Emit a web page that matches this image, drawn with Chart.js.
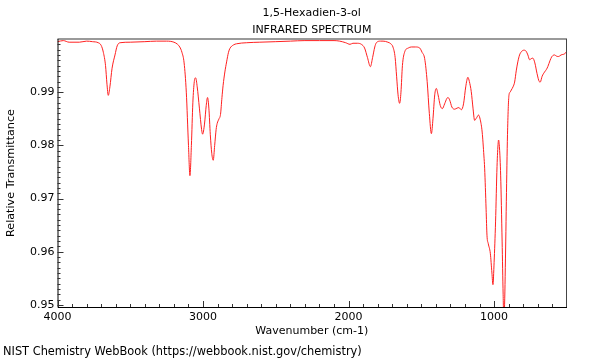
<!DOCTYPE html>
<html>
<head>
<meta charset="utf-8">
<script src="https://cdn.jsdelivr.net/npm/chart.js@4.4.0/dist/chart.umd.min.js"></script>
<style>
  html, body { margin: 0; padding: 0; background: #fff; }
  #wrap { width: 600px; height: 360px; position: relative; }
</style>
</head>
<body>
<div id="wrap"><canvas id="ir"></canvas></div>
<script>
// IR spectrum of 1,5-Hexadien-3-ol

const TITLE_LINES = ['1,5-Hexadien-3-ol', 'INFRARED SPECTRUM'];
const FOOTER = 'NIST Chemistry WebBook (https://webbook.nist.gov/chemistry)';

// wavenumber (cm-1), descending
const wavenumbers = [
  4000, 3960, 3920, 3850, 3800, 3760, 3720, 3700, 3685, 3670, 3660, 3651, 3640, 3625, 3605, 3590, 3570,
  3500, 3400, 3320, 3250, 3200, 3175, 3160, 3145, 3130, 3115, 3100, 3090, 3080, 3070, 3060, 3051,
  3040, 3025, 3010, 3003, 2990, 2978, 2969, 2960, 2950, 2940, 2930, 2920, 2910, 2903, 2890, 2880,
  2870, 2862, 2850, 2838, 2825, 2816, 2790, 2770, 2700, 2610, 2500, 2400, 2300, 2200, 2100, 2061,
  2020, 1990, 1970, 1940, 1912, 1890, 1870, 1850, 1835, 1820, 1809, 1780, 1763, 1730, 1710, 1695,
  1680, 1670, 1660, 1649, 1640, 1630, 1614, 1590, 1568, 1540, 1511, 1495, 1477, 1460, 1445, 1431,
  1420, 1408, 1397, 1385, 1370, 1356, 1340, 1325, 1317, 1305, 1290, 1271, 1255, 1242, 1225, 1210,
  1195, 1180, 1170, 1157, 1145, 1134, 1120, 1107, 1095, 1082, 1070, 1065, 1055, 1049, 1040, 1026,
  1015, 1008, 1000, 990, 980, 972, 969, 963, 955, 945, 938, 933, 928, 920, 916, 908, 898, 890, 882,
  870, 859, 848, 837, 825, 813, 795, 780, 768, 756, 745, 734, 720, 705, 690, 683, 670, 653, 640, 631,
  615, 605, 596, 585, 573, 560, 550, 540, 528, 515, 508
];

// relative transmittance
const transmittance = [
  0.9995, 0.9997, 0.9994, 0.9994, 0.9996, 0.9995, 0.9993, 0.9988, 0.9975, 0.9950, 0.9915, 0.9894, 0.9910, 0.9945, 0.9970, 0.9987, 0.9993,
  0.9994, 0.9995, 0.9996, 0.9996, 0.9994, 0.9990, 0.9985, 0.9975, 0.9955, 0.9900, 0.9800, 0.9743, 0.9800, 0.9880, 0.9920, 0.9927,
  0.9910, 0.9870, 0.9830, 0.9821, 0.9840, 0.9875, 0.9890, 0.9870, 0.9820, 0.9785, 0.9772, 0.9800, 0.9830, 0.9841, 0.9850, 0.9858,
  0.9890, 0.9913, 0.9938, 0.9957, 0.9975, 0.9982, 0.9989, 0.9991, 0.9993, 0.9994, 0.9995, 0.9996, 0.9997, 0.9997, 0.9997, 0.9996,
  0.9993, 0.9990, 0.9992, 0.9992, 0.9990, 0.9983, 0.9965, 0.9948, 0.9965, 0.9985, 0.9993, 0.9996, 0.9996, 0.9994, 0.9991, 0.9985,
  0.9965, 0.9930, 0.9895, 0.9879, 0.9900, 0.9950, 0.9976, 0.9983, 0.9985, 0.9985, 0.9983, 0.9975, 0.9963, 0.9920, 0.9860, 0.9822,
  0.9850, 0.9895, 0.9907, 0.9895, 0.9875, 0.9869, 0.9878, 0.9888, 0.9890, 0.9885, 0.9872, 0.9868, 0.9870, 0.9871, 0.9867, 0.9878,
  0.9910, 0.9928, 0.9920, 0.9901, 0.9870, 0.9847, 0.9852, 0.9857, 0.9848, 0.9825, 0.9780, 0.9757, 0.9680, 0.9631, 0.9615, 0.9597,
  0.9560, 0.9538, 0.9580, 0.9656, 0.9760, 0.9805, 0.9810, 0.9795, 0.9744, 0.9620, 0.9520, 0.9470, 0.9500, 0.9620, 0.9694, 0.9820, 0.9894, 0.9900, 0.9904,
  0.9910, 0.9919, 0.9940, 0.9957, 0.9970, 0.9976, 0.9979, 0.9977, 0.9970, 0.9961, 0.9963, 0.9964, 0.9955, 0.9935, 0.9920, 0.9919, 0.9930, 0.9938, 0.9943, 0.9948,
  0.9960, 0.9966, 0.9969, 0.9970, 0.9968, 0.9967, 0.9968, 0.9970, 0.9971, 0.9972, 0.9975
];

const xTicks = [4000, 3000, 2000, 1000];
const xMinorTicks = [3900, 3800, 3700, 3600, 3500, 3400, 3300, 3200, 3100,
  2900, 2800, 2700, 2600, 2500, 2400, 2300, 2200, 2100,
  1900, 1800, 1700, 1600, 1500, 1400, 1300, 1200, 1100,
  900, 800, 700, 600];
const yTicks = [0.95, 0.96, 0.97, 0.98, 0.99];
const yMinorTicks = [];
for (let i = 950; i <= 999; i++) if (i % 10) yMinorTicks.push(i / 1000);

const X_MIN = 506, X_MAX = 4000;
const Y_MIN = 0.9496, Y_MAX = 1.0;

const FONT = 'DejaVu Sans';

// frame + inward ticks + titles
const framePlugin = {
  id: 'frame',
  afterDraw(chart) {
    const { ctx, chartArea: a, scales: { x, y } } = chart;
    ctx.save();
    // top border (grey, thick) and right border
    ctx.strokeStyle = '#9a9a9a';
    ctx.lineWidth = 2;
    ctx.beginPath(); ctx.moveTo(a.left, a.top); ctx.lineTo(a.right + 1, a.top); ctx.stroke();
    ctx.strokeStyle = '#444';
    ctx.lineWidth = 1;
    ctx.beginPath(); ctx.moveTo(a.right + 0.5, a.top); ctx.lineTo(a.right + 0.5, a.bottom); ctx.stroke();
    // left + bottom axis
    ctx.strokeStyle = '#000';
    ctx.beginPath();
    ctx.moveTo(a.left + 0.5, a.top); ctx.lineTo(a.left + 0.5, a.bottom + 0.5); ctx.lineTo(a.right + 1, a.bottom + 0.5);
    ctx.stroke();
    // ticks pointing inward
    ctx.strokeStyle = '#333';
    ctx.beginPath();
    xTicks.forEach(v => { const px = Math.round(x.getPixelForValue(v)) + 0.5; ctx.moveTo(px, a.bottom); ctx.lineTo(px, a.bottom - 6); });
    xMinorTicks.forEach(v => { const px = Math.round(x.getPixelForValue(v)) + 0.5; ctx.moveTo(px, a.bottom); ctx.lineTo(px, a.bottom - 3); });
    yTicks.forEach(v => { const py = Math.round(y.getPixelForValue(v)) + 0.5; ctx.moveTo(a.left, py); ctx.lineTo(a.left + 6, py); });
    yMinorTicks.forEach(v => { const py = Math.round(y.getPixelForValue(v)) + 0.5; ctx.moveTo(a.left, py); ctx.lineTo(a.left + 3, py); });
    ctx.stroke();
    // titles
    ctx.fillStyle = '#000';
    ctx.font = '11px "' + FONT + '"';
    ctx.textAlign = 'center';
    ctx.textBaseline = 'middle';
    const cx = (a.left + a.right) / 2;
    ctx.fillText(TITLE_LINES[0], cx, 13);
    ctx.fillText(TITLE_LINES[1], cx, 30);
    ctx.textAlign = 'left';
    ctx.font = '11.4px "' + FONT + '"';
    ctx.fillText(FOOTER, 3, 352);
    ctx.restore();
  }
};

const points = wavenumbers.map((w, i) => ({ x: w, y: transmittance[i] }));

new Chart(document.getElementById('ir'), {
  type: 'line',
  data: {
    datasets: [{
      data: points,
      borderColor: '#ff2020',
      borderWidth: 1,
      pointRadius: 0,
      cubicInterpolationMode: 'monotone',
      fill: false
    }]
  },
  options: {
    responsive: true,
    maintainAspectRatio: false,
    animation: false,
    layout: { padding: { top: 39, right: 34, left: 0, bottom: 20 } },
    plugins: { legend: { display: false }, tooltip: { enabled: false }, title: { display: false } },
    scales: {
      x: {
        type: 'linear',
        reverse: true,
        min: X_MIN,
        max: X_MAX,
        afterBuildTicks: s => { s.ticks = xTicks.map(v => ({ value: v })); },
        afterFit: s => { s.height = 33; },
        grid: { display: false, drawTicks: false },
        border: { display: false },
        ticks: { color: '#000', font: { family: FONT, size: 11 }, padding: 4, maxRotation: 0, autoSkip: false, callback: v => String(v) },
        title: { display: true, text: 'Wavenumber (cm-1)', color: '#000', font: { family: FONT, size: 11 }, padding: { top: 0, bottom: 2 } }
      },
      y: {
        min: Y_MIN,
        max: Y_MAX,
        afterBuildTicks: s => { s.ticks = yTicks.map(v => ({ value: v })); },
        afterFit: s => { s.width = 57.5; },
        grid: { display: false, drawTicks: false },
        border: { display: false },
        ticks: { color: '#000', font: { family: FONT, size: 11 }, padding: 3, callback: v => v.toFixed(2) },
        title: { display: true, text: 'Relative Transmittance', color: '#000', font: { family: FONT, size: 11.2 }, padding: { top: 4, bottom: 0 } }
      }
    }
  },
  plugins: [framePlugin]
});
</script>
</body>
</html>
